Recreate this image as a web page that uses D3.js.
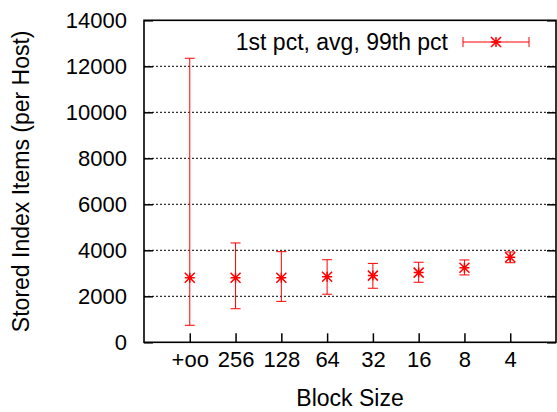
<!DOCTYPE html>
<html>
<head>
<meta charset="utf-8">
<script src="https://cdn.jsdelivr.net/npm/d3@7"></script>
<style>
  body { margin: 0; background: #fff; }
  text { font-family: "Liberation Sans", Arial, sans-serif; fill: #000; }
</style>
</head>
<body>
<div id="chart"></div>
<script>
const categories = ['+oo', '256', '128', '64', '32', '16', '8', '4'];
const avgItems = [2810, 2810, 2810, 2850, 2900, 3030, 3240, 3700];
const pct1 = [740, 1460, 1780, 2090, 2350, 2610, 2930, 3460];
const pct99 = [12350, 4320, 3940, 3590, 3430, 3480, 3580, 3930];
const yTicks = [0, 2000, 4000, 6000, 8000, 10000, 12000, 14000];
const legendLabel = '1st pct, avg, 99th pct';

const W = 557, H = 412;
const plotLeft = 144, plotRight = 556, plotTop = 20.3, plotBottom = 342.3;
const red = '#ff0000';
const tickFont = 22;
const titleFont = 23;

const svg = d3.select('#chart').append('svg')
  .attr('width', W).attr('height', H);

const x = d3.scaleLinear().domain([-1, 8]).range([plotLeft, plotRight]);
const y = d3.scaleLinear().domain([0, 14000]).range([plotBottom, plotTop]);

// grid
svg.append('g').selectAll('line')
  .data(yTicks.filter(t => t > 0 && t < 14000))
  .join('line')
  .attr('x1', plotLeft).attr('x2', plotRight)
  .attr('y1', d => y(d)).attr('y2', d => y(d))
  .style('stroke', '#000').style('stroke-width', 1)
  .style('stroke-dasharray', '2,2');

// axes (inward ticks like gnuplot)
svg.append('g')
  .attr('transform', `translate(${plotLeft},0)`)
  .call(d3.axisLeft(y).tickValues(yTicks).tickFormat(d3.format('d'))
    .tickSizeInner(-9).tickSizeOuter(0).tickPadding(17));

svg.append('g')
  .attr('transform', `translate(${plotRight},0)`)
  .call(d3.axisRight(y).tickValues(yTicks).tickSizeInner(-9).tickSizeOuter(0).tickFormat(''));

svg.append('g')
  .attr('transform', `translate(0,${plotBottom})`)
  .call(d3.axisBottom(x).tickValues(d3.range(categories.length))
    .tickFormat(i => categories[i]).tickSizeInner(-9).tickSizeOuter(0).tickPadding(9));

svg.selectAll('.domain').remove();
svg.selectAll('.tick line').style('stroke', '#000').style('stroke-width', 1.5);
svg.selectAll('.tick text')
  .style('font-size', tickFont + 'px')
  .style('font-family', '"Liberation Sans", Arial, sans-serif')
  .attr('fill', '#000');

// border
svg.append('rect')
  .attr('x', plotLeft).attr('y', plotTop)
  .attr('width', plotRight - plotLeft).attr('height', plotBottom - plotTop)
  .style('fill', 'none').style('stroke', '#000').style('stroke-width', 1.6);

// error bars
const capW = 5;
const starR = 5;
const bars = svg.append('g');
categories.forEach((c, i) => {
  const cx = x(i);
  bars.append('line')
    .attr('x1', cx).attr('x2', cx)
    .attr('y1', y(pct1[i])).attr('y2', y(pct99[i]))
    .style('stroke', red).style('stroke-width', 1);
  [pct1[i], pct99[i]].forEach(v => {
    bars.append('line')
      .attr('x1', cx - capW).attr('x2', cx + capW)
      .attr('y1', y(v)).attr('y2', y(v))
      .style('stroke', red).style('stroke-width', 1);
  });
});

function star(g, cx, cy) {
  g.append('path')
    .attr('d', `M${cx - starR},${cy}H${cx + starR}M${cx},${cy - starR}V${cy + starR}` +
      `M${cx - starR},${cy - starR}L${cx + starR},${cy + starR}M${cx - starR},${cy + starR}L${cx + starR},${cy - starR}`)
    .style('stroke', red).style('stroke-width', 1.5).style('fill', 'none');
}

avgItems.forEach((v, i) => star(bars, x(i), y(v)));

// legend
const lg = svg.append('g');
lg.append('text')
  .attr('x', 448).attr('y', 49.5)
  .style('font-size', titleFont + 'px')
  .style('text-anchor', 'end')
  .text(legendLabel);
const lx1 = 463, lx2 = 529, ly = 42;
lg.append('line').attr('x1', lx1).attr('x2', lx2).attr('y1', ly).attr('y2', ly)
  .style('stroke', red).style('stroke-width', 1);
[lx1, lx2].forEach(px => lg.append('line')
  .attr('x1', px).attr('x2', px).attr('y1', ly - capW).attr('y2', ly + capW)
  .style('stroke', red).style('stroke-width', 1));
star(lg, (lx1 + lx2) / 2, ly);

// axis titles
svg.append('text')
  .attr('transform', `translate(28.5,${(plotTop + plotBottom) / 2}) rotate(-90)`)
  .style('font-size', titleFont + 'px')
  .style('text-anchor', 'middle')
  .text('Stored Index Items (per Host)');

svg.append('text')
  .attr('x', (plotLeft + plotRight) / 2).attr('y', 406)
  .style('font-size', titleFont + 'px')
  .style('text-anchor', 'middle')
  .text('Block Size');
</script>
</body>
</html>
